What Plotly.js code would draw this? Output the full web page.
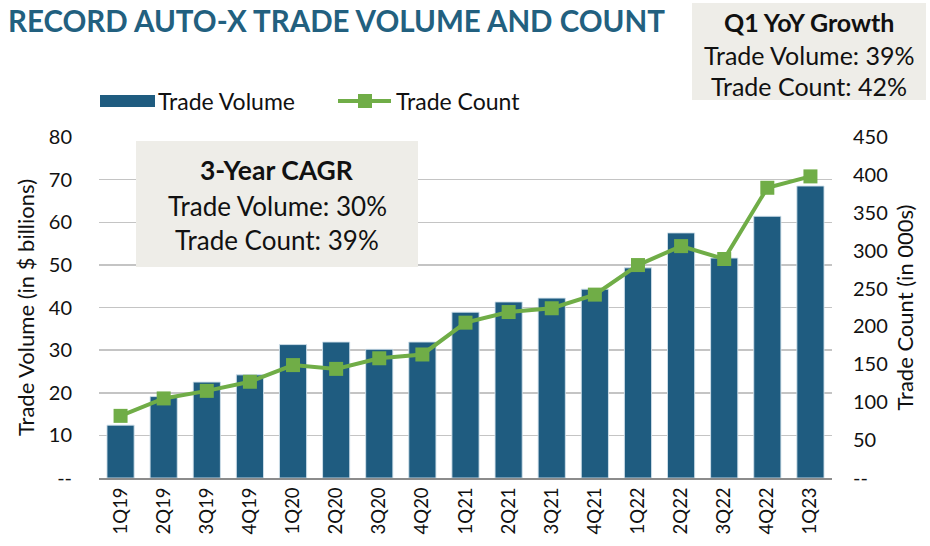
<!DOCTYPE html>
<html>
<head>
<meta charset="utf-8">
<script src="https://cdn.plot.ly/plotly-3.0.1.min.js"></script>
<style>html,body{margin:0;padding:0;background:#fff;}#chart{width:930px;height:546px;}</style>
</head>
<body>
<div id="chart"></div>
<script>
// ---- data ----
const quarters = ["1Q19","2Q19","3Q19","4Q19","1Q20","2Q20","3Q20","4Q20","1Q21","2Q21","3Q21","4Q21","1Q22","2Q22","3Q22","4Q22","1Q23"];
const tradeVolume = [12.4, 19.1, 22.5, 24.2, 31.3, 31.9, 30.2, 31.9, 38.9, 41.3, 42.2, 44.3, 49.3, 57.5, 51.6, 61.4, 68.5];
const tradeCount = [82, 105, 115, 127, 149, 144, 158, 163, 205, 219, 224, 242, 281, 306, 289, 383, 398];
const leftTickVals = [0, 10, 20, 30, 40, 50, 60, 70, 80];
const leftTickText = ["--", "10", "20", "30", "40", "50", "60", "70", "80"];
const rightTickVals = [0, 50, 100, 150, 200, 250, 300, 350, 400, 450];
const rightTickText = ["--", "50", "100", "150", "200", "250", "300", "350", "400", "450"];
const seriesNames = ["Trade Volume", "Trade Count"];
const titleText = "RECORD AUTO-X TRADE VOLUME AND COUNT";
const cagrLines = ["3-Year CAGR", "Trade Volume: 30%", "Trade Count: 39%"];
const yoyLines = ["Q1 YoY Growth", "Trade Volume: 39%", "Trade Count: 42%"];

// ---- style ----
const FONT = "Lato, 'Open Sans', sans-serif";
const BAR = "#1f5c80";
const GREEN = "#70ad47";
const BOXFILL = "#eeede8";
const W = 930, H = 546;
const M = {l: 99, r: 98, t: 137, b: 68};
const PW = W - M.l - M.r, PH = H - M.t - M.b;
const px = x => (x - M.l) / PW;
const py = y => (H - M.b - y) / PH;

const traces = [
  {type: "bar", x: quarters, y: tradeVolume, name: seriesNames[0],
   marker: {color: BAR, line: {color: "rgba(210,225,235,0.9)", width: 1}}, yaxis: "y"},
  {type: "scatter", mode: "lines+markers", x: quarters, y: tradeCount, name: seriesNames[1],
   line: {color: GREEN, width: 4}, marker: {symbol: "square", size: 14, color: GREEN}, yaxis: "y2"}
];

const shapes = [
  {type: "rect", xref: "paper", yref: "paper", x0: px(136), x1: px(418), y0: py(141), y1: py(267),
   fillcolor: BOXFILL, line: {width: 0}, layer: "above"},
  {type: "rect", xref: "paper", yref: "paper", x0: px(692), x1: px(926), y0: py(3), y1: py(100),
   fillcolor: BOXFILL, line: {width: 0}, layer: "above"},
  // legend swatches
  {type: "rect", xref: "paper", yref: "paper", x0: px(100), x1: px(155), y0: py(95), y1: py(107),
   fillcolor: BAR, line: {width: 0}, layer: "above"},
  {type: "line", xref: "paper", yref: "paper", x0: px(338), x1: px(391), y0: py(101), y1: py(101),
   line: {color: GREEN, width: 4}, layer: "above"},
  {type: "rect", xref: "paper", yref: "paper", x0: px(358), x1: px(372), y0: py(94), y1: py(108),
   fillcolor: GREEN, line: {width: 0}, layer: "above"}
];

function ann(text, x, y, size, bold, anchor) {
  return {xref: "paper", yref: "paper", x: px(x), y: py(y), text: bold ? "<b>" + text + "</b>" : text,
    showarrow: false, xanchor: anchor || "center", yanchor: "middle",
    font: {family: FONT, size: size, color: "#111"}};
}
const annotations = [
  ann(cagrLines[0], 277, 170, 26.5, true),
  ann(cagrLines[1], 277, 206, 26, false),
  ann(cagrLines[2], 277, 240, 26, false),
  ann(yoyLines[0], 809, 22, 25, true),
  ann(yoyLines[1], 809, 55, 25, false),
  ann(yoyLines[2], 809, 86, 25, false),
  ann(seriesNames[0], 156, 101, 23, false, "left"),
  ann(seriesNames[1], 394, 101, 23, false, "left")
];

const layout = {
  width: W, height: H, margin: M, paper_bgcolor: "#fff", plot_bgcolor: "#fff",
  showlegend: false, bargap: 0.37,
  font: {family: FONT, size: 18, color: "#111"},
  title: {text: "<b>" + titleText + "</b>", xref: "container", yref: "container", x: 8 / W, xanchor: "left",
          y: 1 - 22 / H, yanchor: "middle", font: {family: FONT, size: 29.5, color: "#22607f"}},
  xaxis: {type: "category", range: [-0.5, quarters.length - 0.5], automargin: false, tickangle: -90,
          showline: true, linecolor: "#8c8c8c", linewidth: 2,
          showgrid: false, ticks: "", tickfont: {family: FONT, size: 18.5, color: "#111"}},
  yaxis: {range: [0, 80], automargin: false, tickvals: leftTickVals, ticktext: leftTickText, showgrid: true,
          gridcolor: "#c4c4c4", gridwidth: 1.5, zeroline: false, ticks: "", ticklabelstandoff: 26,
          tickfont: {family: FONT, size: 20, color: "#111"},
          title: {text: "Trade Volume (in $ billions)", standoff: 8, font: {family: FONT, size: 22, color: "#111"}}},
  yaxis2: {range: [0, 450], automargin: false, overlaying: "y", side: "right", tickvals: rightTickVals, ticktext: rightTickText,
           showgrid: false, zeroline: false, ticks: "", ticklabelstandoff: 20,
           tickfont: {family: FONT, size: 20, color: "#111"},
           title: {text: "Trade Count (in 000s)", standoff: 10, font: {family: FONT, size: 22, color: "#111"}}},
  shapes: shapes, annotations: annotations
};

Plotly.newPlot("chart", traces, layout, {displayModeBar: false, staticPlot: true});
</script>
</body>
</html>
